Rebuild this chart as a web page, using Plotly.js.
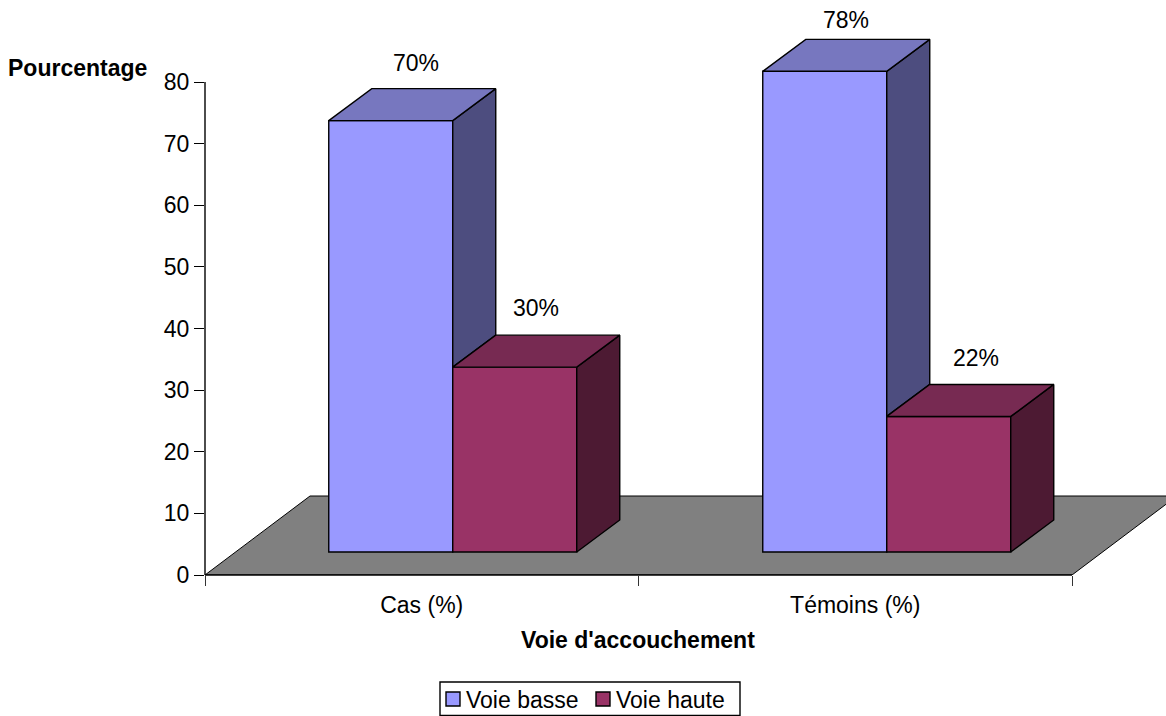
<!DOCTYPE html>
<html>
<head>
<meta charset="utf-8">
<script src="https://cdn.plot.ly/plotly-3.0.1.min.js"></script>
<style>html,body{margin:0;padding:0;background:#fff;overflow:hidden}#c{width:1166px;height:716px}</style>
</head>
<body>
<div id="c"></div>
<script>
var categories = ["Cas (%)", "Témoins (%)"];
var voieBasse = [70, 78];
var voieHaute = [30, 22];
var seriesNames = ["Voie basse", "Voie haute"];
var yTicks = [0, 10, 20, 30, 40, 50, 60, 70, 80];

var W = 1166, H = 716, L = 205, B = 141;
var axisW = 867, axisH = 493;
var plotW = W - L, plotH = H - B;
var xUnit = axisW / 2, yUnit = axisH / 80;
var xMax = plotW / xUnit, yMax = plotH / yUnit;
var base = 23 / yUnit;
var barW = 124 / xUnit;
var shiftX = 31 / xUnit;
var stepX = 434 / xUnit;
var depthX = 43 / xUnit, depthY = 32 / yUnit;
var floorX = 105 / xUnit, floorY = 79 / yUnit;

var xc = categories.map(function (_, i) { return 0.5 + shiftX + i * stepX; });
var font = "Liberation Sans, Arial, sans-serif";
var fs = 23;
var blue = "#9999FF", blueTop = "#7777BF", blueSide = "#4D4D7F";
var red = "#993366", redTop = "#772A52", redSide = "#4D1A33";

function poly(xs, ys, fill) {
  return { type: "scatter", mode: "lines", x: xs.concat(xs[0]), y: ys.concat(ys[0]), fill: "toself",
    fillcolor: fill, line: { color: "#000", width: 1.4, simplify: false },
    showlegend: false, hoverinfo: "skip" };
}

var traces = [
  { type: "bar", name: seriesNames[0], x: xc, y: voieBasse, base: base, width: barW, offset: -barW,
    marker: { color: blue, line: { color: "#000", width: 1.4 } } },
  { type: "bar", name: seriesNames[1], x: xc, y: voieHaute, base: base, width: barW, offset: 0,
    marker: { color: red, line: { color: "#000", width: 1.4 } } }
];

xc.forEach(function (c, i) {
  var a = base + voieBasse[i], b = base + voieHaute[i];
  traces.push(poly([c, c + depthX, c + depthX, c], [a, a + depthY, b + depthY, b], blueSide));
  traces.push(poly([c - barW, c - barW + depthX, c + depthX, c], [a, a + depthY, a + depthY, a], blueTop));
  traces.push(poly([c + barW, c + barW + depthX, c + barW + depthX, c + barW], [b, b + depthY, base + depthY, base], redSide));
  traces.push(poly([c, c + depthX, c + barW + depthX, c + barW], [b, b + depthY, b + depthY, b], redTop));
});

var bShift = [[3.5, 26], [0, 19]];
var hShift = [[0, 27], [6, 26]];
var annotations = [];
function lab(x, v, s) {
  return { x: x, y: base + v + depthY, xref: "x", yref: "y", text: v + "%", showarrow: false, yanchor: "middle",
    xshift: s[0], yshift: s[1], font: { family: font, size: fs, color: "#000" } };
}
xc.forEach(function (c, i) {
  annotations.push(lab(c - barW / 2 + depthX / 2, voieBasse[i], bShift[i]));
  annotations.push(lab(c + barW / 2 + depthX / 2, voieHaute[i], hShift[i]));
});
annotations.push({ xref: "paper", yref: "paper", x: (6 - L) / plotW, y: (plotH - 68) / plotH, xanchor: "left", yanchor: "middle",
  text: "<b>Pourcentage</b>", showarrow: false, font: { family: font, size: fs, color: "#000" } });
annotations.push({ xref: "paper", yref: "paper", x: (638 - L) / plotW, y: (plotH - 640) / plotH, xanchor: "center", yanchor: "middle",
  text: "<b>Voie d'accouchement</b>", showarrow: false, font: { family: font, size: fs, color: "#000" } });

var axisLine = { color: "#000", width: 1.4 };
var layout = {
  width: W, height: H, paper_bgcolor: "#fff", plot_bgcolor: "rgba(0,0,0,0)",
  margin: { l: L, r: 0, t: 0, b: B, pad: 0, autoexpand: false },
  barmode: "overlay", hovermode: false,
  font: { family: font, size: fs, color: "#000" },
  shapes: [
    { type: "path", layer: "below", xref: "x", yref: "y",
      path: "M0,0 L" + floorX + "," + floorY + " L" + (2 + floorX) + "," + floorY + " L2,0 Z",
      fillcolor: "#808080", line: { color: "#000", width: 1 } },
    { type: "line", layer: "above", xref: "paper", yref: "paper", x0: 0, x1: 0, y0: 0, y1: 80 / yMax, line: axisLine },
    { type: "line", layer: "above", xref: "paper", yref: "paper", x0: 0, x1: 2 / xMax, y0: 0, y1: 0, line: axisLine },
    { type: "rect", layer: "below", xref: "paper", yref: "paper", x0: (440 - L) / plotW, x1: (740 - L) / plotW,
      y0: (plotH - 715.5) / plotH, y1: (plotH - 682) / plotH, line: axisLine, fillcolor: "#fff" }
  ],
  xaxis: {
    range: [0, xMax], tickmode: "array", tickvals: [0.5, 1.5], ticktext: categories, ticks: "", ticklabelstandoff: 14,
    showgrid: false, zeroline: false, showline: false,
    minor: { tickmode: "array", tickvals: [0, 1, 2], ticks: "outside", ticklen: 10, tickwidth: 1, tickcolor: "#333", showgrid: false },
    tickfont: { family: font, size: fs, color: "#000" }, automargin: false
  },
  yaxis: {
    range: [0, yMax], tickmode: "array", tickvals: yTicks, ticks: "outside", ticklen: 10, tickwidth: 1, tickcolor: "#000",
    showgrid: false, zeroline: false, showline: false,
    tickfont: { family: font, size: fs, color: "#000" }, automargin: false
  },
  showlegend: true,
  legend: { orientation: "h", x: (433 - L) / plotW, y: (plotH - 699) / plotH, xanchor: "left", yanchor: "middle",
    bgcolor: "rgba(0,0,0,0)", borderwidth: 0, font: { family: font, size: fs, color: "#000" },
    traceorder: "normal", itemwidth: 30, entrywidth: 105, entrywidthmode: "pixels" },
  annotations: annotations
};

Plotly.newPlot("c", traces, layout, { displayModeBar: false, staticPlot: true }).then(function (gd) {
  gd.querySelectorAll(".legend .legendtext").forEach(function (t) {
    t.setAttribute("x", +t.getAttribute("x") - 7);
  });
  gd.querySelectorAll(".legend .legendpoints path").forEach(function (p) {
    p.setAttribute("d", "M7,7H-7V-7H7Z");
  });
});
</script>
</body>
</html>
